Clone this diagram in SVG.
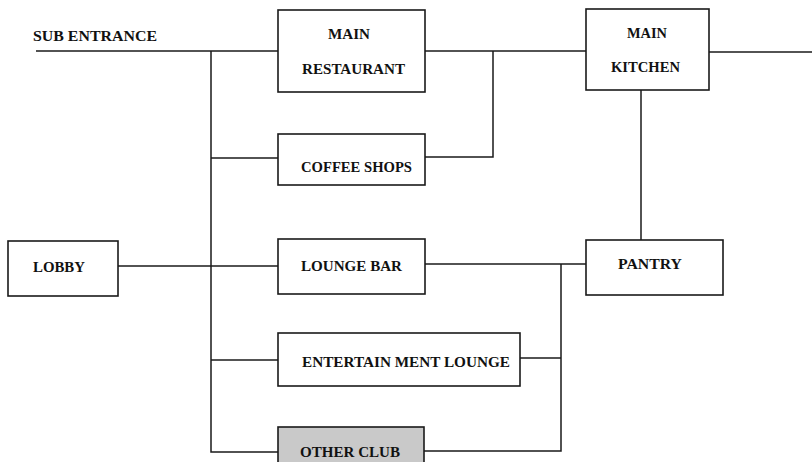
<svg xmlns="http://www.w3.org/2000/svg" width="812" height="462" viewBox="0 0 812 462">
<style>
.box{fill:#fff;stroke:#1a1a1a;stroke-width:1.6}
.shade{fill:#c9c9c9;stroke:#1a1a1a;stroke-width:1.6}
.ln{fill:none;stroke:#1a1a1a;stroke-width:1.5}
text{font-family:"Liberation Serif","Times New Roman",serif;font-weight:bold;font-size:14.5px;fill:#111}
</style>
<rect width="812" height="462" fill="#fff"/>
<g id="connectors">
<path class="ln" d="M36 51H278"/>
<path class="ln" d="M211 51V452H278"/>
<path class="ln" d="M425 51H586"/>
<path class="ln" d="M211 158H278"/>
<path class="ln" d="M425 157H493V51"/>
<path class="ln" d="M709 52H812"/>
<path class="ln" d="M641 90V240"/>
<path class="ln" d="M118 266H278"/>
<path class="ln" d="M425 264H586"/>
<path class="ln" d="M561 264V451H424"/>
<path class="ln" d="M211 360H278"/>
<path class="ln" d="M520 358H561"/>
</g>
<g id="sub-entrance"><text x="33" y="41" textLength="124" lengthAdjust="spacingAndGlyphs">SUB ENTRANCE</text></g>
<g id="main-restaurant">
<rect class="box" x="278" y="10" width="147" height="82"/>
<text x="328" y="39" textLength="42" lengthAdjust="spacingAndGlyphs">MAIN</text>
<text x="302" y="74" textLength="103" lengthAdjust="spacingAndGlyphs">RESTAURANT</text>
</g>
<g id="main-kitchen">
<rect class="box" x="586" y="9" width="123" height="81"/>
<text x="627" y="38" textLength="40" lengthAdjust="spacingAndGlyphs">MAIN</text>
<text x="611" y="72" textLength="69" lengthAdjust="spacingAndGlyphs">KITCHEN</text>
</g>
<g id="coffee-shops">
<rect class="box" x="278" y="134" width="147" height="51"/>
<text x="301" y="172" textLength="111" lengthAdjust="spacingAndGlyphs">COFFEE SHOPS</text>
</g>
<g id="lobby">
<rect class="box" x="8" y="241" width="110" height="55"/>
<text x="33" y="272" textLength="52" lengthAdjust="spacingAndGlyphs">LOBBY</text>
</g>
<g id="lounge-bar">
<rect class="box" x="278" y="239" width="147" height="55"/>
<text x="301" y="271" textLength="101" lengthAdjust="spacingAndGlyphs">LOUNGE BAR</text>
</g>
<g id="pantry">
<rect class="box" x="586" y="240" width="137" height="55"/>
<text x="618" y="269" textLength="64" lengthAdjust="spacingAndGlyphs">PANTRY</text>
</g>
<g id="entertainment-lounge">
<rect class="box" x="278" y="333" width="242" height="53"/>
<text x="302" y="367" textLength="208" lengthAdjust="spacingAndGlyphs">ENTERTAIN MENT LOUNGE</text>
</g>
<g id="other-club">
<rect class="shade" x="278" y="427" width="146" height="50"/>
<text x="300" y="457" textLength="100" lengthAdjust="spacingAndGlyphs">OTHER CLUB</text>
</g>
</svg>
